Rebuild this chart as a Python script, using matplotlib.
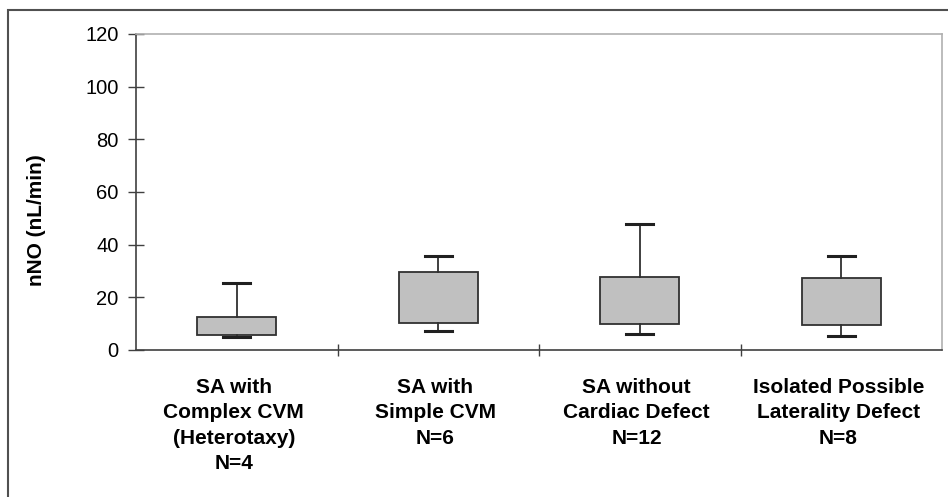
import matplotlib.pyplot as plt
from matplotlib.patches import Rectangle

plt.rcParams['font.family'] = ['Liberation Sans', 'DejaVu Sans']

# values (nL/min)
groups = ["SA with\nComplex CVM\n(Heterotaxy)\nN=4",
          "SA with\nSimple CVM\nN=6",
          "SA without\nCardiac Defect\nN=12",
          "Isolated Possible\nLaterality Defect\nN=8"]
whis_lo = [4.9, 7.1, 6.1, 5.3]
q1 = [5.8, 10.1, 9.9, 9.5]
q3 = [12.5, 29.6, 27.7, 27.3]
whis_hi = [25.3, 35.8, 48.0, 35.8]
yticks = [0, 20, 40, 60, 80, 100, 120]

fig = plt.figure(figsize=(9.48, 4.97), dpi=100)
ax = fig.add_axes([0.1435, 0.2958, 0.8502, 0.6358])

stats = []
for i in range(len(groups)):
    stats.append(dict(whislo=whis_lo[i], q1=q1[i], med=q1[i],
                      q3=q3[i], whishi=whis_hi[i]))

pos = list(range(1, len(groups) + 1))
ax.bxp(stats, positions=pos, widths=0.39, capwidths=0.135,
       showfliers=False, patch_artist=True,
       boxprops=dict(facecolor='#c0c0c0', edgecolor='#303030', linewidth=1.3),
       whiskerprops=dict(color='#303030', linewidth=1.3),
       capprops=dict(color='#202020', linewidth=2.2),
       medianprops=dict(linewidth=0))

ax.set_xlim(0.5, len(groups) + 0.5)
ax.set_ylim(0, 120)
ax.set_yticks(yticks)
ax.set_xticks([p + 0.5 for p in pos[:-1]])
ax.set_xticklabels([])
ax.tick_params(axis='y', direction='inout', length=11, width=1, color='#404040',
               labelsize=14.5, pad=7)
ax.tick_params(axis='x', direction='inout', length=9, width=1, color='#404040')

for s in ['left', 'bottom']:
    ax.spines[s].set_color('#404040')
    ax.spines[s].set_linewidth(1.2)
for s in ['top', 'right']:
    ax.spines[s].set_color('#b0b0b0')
    ax.spines[s].set_linewidth(1.2)

ax.set_ylabel("nNO (nL/min)", fontsize=15, fontweight='bold')
ax.yaxis.set_label_coords(-0.112, 0.41)

for p, lab in zip(pos, groups):
    ax.annotate(lab, xy=(p, 0), xycoords=ax.get_xaxis_transform(),
                xytext=(-3, -28), textcoords='offset pixels',
                ha='center', va='top', fontsize=15, fontweight='bold',
                linespacing=1.42)

# outer frame of the original figure
fig.patches.append(Rectangle((8 / 948, -0.1), 1.2, (487 / 497) + 0.1,
                             transform=fig.transFigure, fill=False,
                             edgecolor='#505050', linewidth=1.5))

fig.savefig("out.png", dpi=100)
